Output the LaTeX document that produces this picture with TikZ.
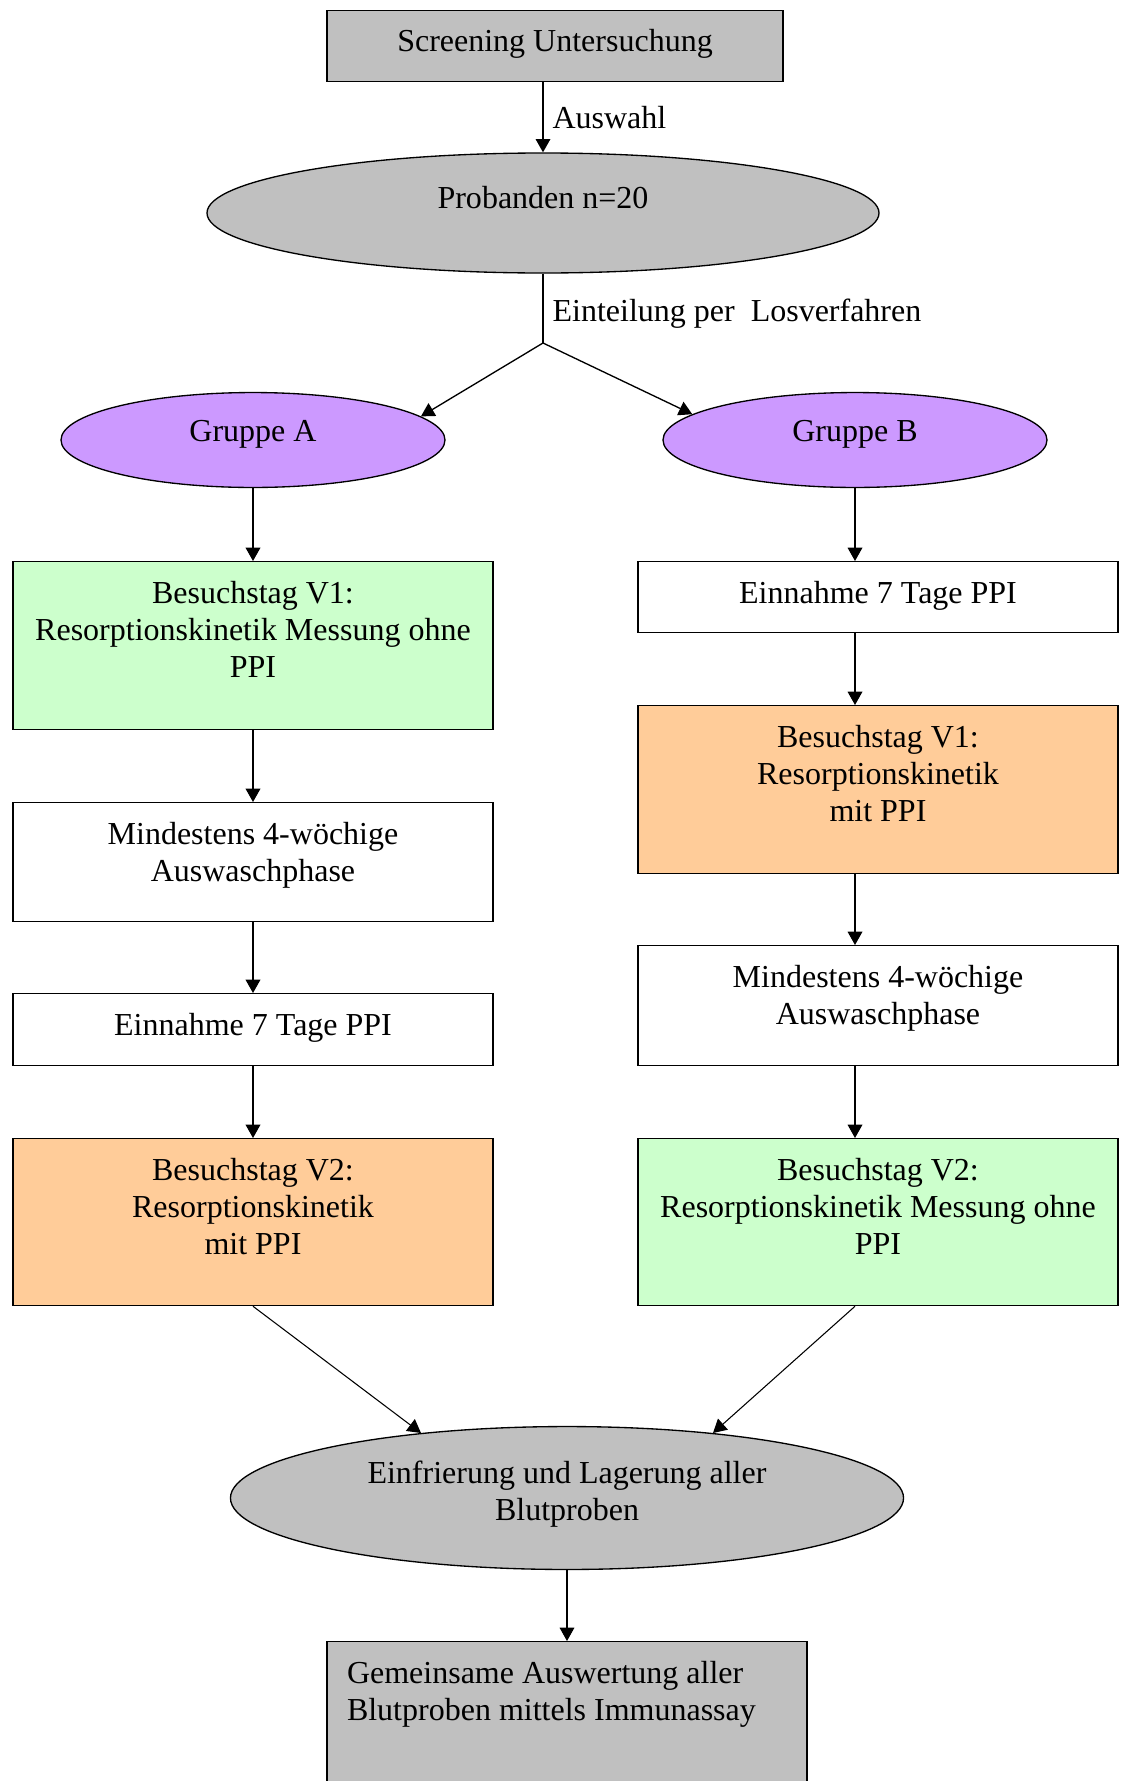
\documentclass[tikz,border=0pt]{standalone}
\usepackage{fontspec}
\setmainfont{Liberation Serif}
\usetikzlibrary{arrows.meta}
\usetikzlibrary{shapes.geometric}

\definecolor{wordgrey}{HTML}{C0C0C0}
\definecolor{wordlila}{HTML}{CC99FF}
\definecolor{wordgruen}{HTML}{CCFFCC}
\definecolor{wordorange}{HTML}{FFCC99}

\begin{document}
\begin{tikzpicture}[x=0.375pt, y=-0.375pt, line width=0.5pt,
    every node/.style={font=\fontsize{12pt}{13.9pt}\selectfont},
    box/.style={draw, fill=white, rectangle, anchor=north, text width=172pt, align=flush center,
        inner xsep=4pt, inner ysep=6.5pt, text height=9pt, text depth=#1},
    oval/.style={draw, ellipse, inner sep=0pt, text height=9pt, text depth=#1},
    pfeil/.style={-{Triangle[length=5pt,width=5.5pt]}}]
            % page
            \useasboundingbox (0,0) rectangle (1124,1781);

            % top
            \node[box=4.6pt, fill=wordgrey, text width=163pt] (scr) at (555,10) {Screening Untersuchung};
            \node[oval=12.2pt, fill=wordgrey, minimum width=252pt, minimum height=45pt] (prob) at (543,213) {Probanden n=20};
            \coordinate (split) at (543,343);

            % groups
            \node[oval=7.8pt, fill=wordlila, minimum width=144pt, minimum height=35.6pt] (gA) at (253,440) {Gruppe A};
            \node[oval=7.8pt, fill=wordlila, minimum width=144pt, minimum height=35.6pt] (gB) at (855,440) {Gruppe B};

            % left column
            \node[box=41pt, fill=wordgruen] (v1A) at (253,561) {Besuchstag V1:\\Resorptionskinetik Messung ohne\\PPI};
            \node[box=22.6pt] (auswA) at (253,802) {Mindestens 4-wöchige\\Auswaschphase};
            \node[box=5pt] (einA) at (253,993) {Einnahme 7 Tage PPI};
            \node[box=40.6pt, fill=wordorange] (v2A) at (253,1138) {Besuchstag V2:\\Resorptionskinetik\\mit PPI};

            % right column
            \node[box=4.6pt] (einB) at (878,561) {Einnahme 7 Tage PPI};
            \node[box=41pt, fill=wordorange] (v1B) at (878,705) {Besuchstag V1:\\Resorptionskinetik\\mit PPI};
            \node[box=23pt] (auswB) at (878,945) {Mindestens 4-wöchige\\Auswaschphase};
            \node[box=40.6pt, fill=wordgruen] (v2B) at (878,1138) {Besuchstag V2:\\Resorptionskinetik Messung ohne\\PPI};

            % bottom
            \node[oval=19.7pt, fill=wordgrey, minimum width=252.4pt, minimum height=53.6pt, text width=165pt, align=flush center] (frier) at (567,1498) {Einfrierung und Lagerung aller\\Blutproben};
            \node[box=38pt, fill=wordgrey, text width=165pt, inner xsep=7.5pt, align=flush left] (ausw) at (567,1641) {Gemeinsame Auswertung aller\\Blutproben mittels Immunassay};

            % arrows
            \draw[pfeil] (scr.south -| prob.north) -- node[right] {Auswahl} (prob.north);
            \draw (prob.south) -- node[right, pos=0.57] {Einteilung per\ \ Losverfahren} (split);
            \draw[pfeil] (split) -- (gA.8);
            \draw[pfeil] (split) -- (gB.171);

            \draw[pfeil] (gA.south) -- (v1A.north);
            \draw[pfeil] (v1A.south) -- (auswA.north);
            \draw[pfeil] (auswA.south) -- (einA.north);
            \draw[pfeil] (einA.south) -- (v2A.north);

            \draw[pfeil] (gB.south) -- (gB.south |- einB.north);
            \draw[pfeil] (einB.south -| gB) -- (v1B.north -| gB);
            \draw[pfeil] (v1B.south -| gB) -- (auswB.north -| gB);
            \draw[pfeil] (auswB.south -| gB) -- (v2B.north -| gB);

            \draw[pfeil, line width=0.4pt] (v2A.south) -- (frier.156);
            \draw[pfeil, line width=0.4pt] (v2B.south -| gB) -- (frier.24);
            \draw[pfeil, line width=0.4pt] (frier.south) -- (ausw.north);
        \end{tikzpicture}
\end{document}
